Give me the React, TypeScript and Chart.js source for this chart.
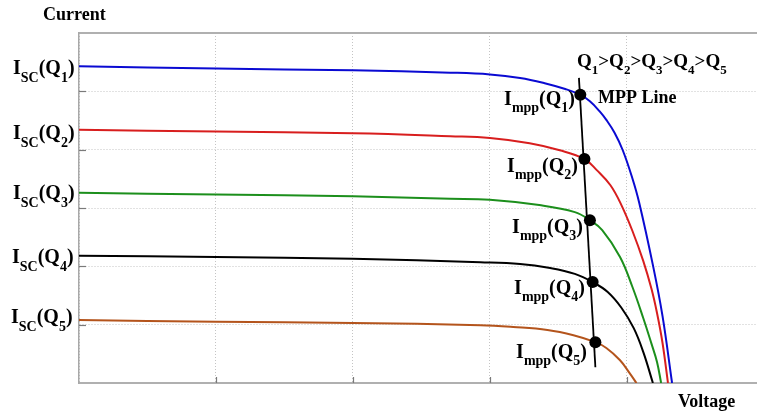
import React, { useEffect, useRef } from "react";
import { Chart, registerables } from "chart.js";

Chart.register(...registerables);

// I-V curves for five irradiance levels Q1 > Q2 > Q3 > Q4 > Q5
const q1Voltage = [0, 1.0, 2.0, 2.71, 3.0, 3.22, 3.4, 3.55, 3.66, 3.73, 3.8, 3.85, 3.91, 3.97, 4.04, 4.09, 4.19, 4.26, 4.33];
const q1Current = [5.43, 5.39, 5.36, 5.32, 5.29, 5.23, 5.14, 5.04, 4.94, 4.83, 4.66, 4.51, 4.29, 3.99, 3.51, 3.09, 2.02, 1.15, 0];

const q2Voltage = [0, 1.0, 2.0, 2.71, 3.0, 3.29, 3.51, 3.69, 3.78, 3.88, 3.96, 4.04, 4.12, 4.18, 4.22, 4.26, 4.3];
const q2Current = [4.34, 4.31, 4.28, 4.23, 4.2, 4.11, 3.99, 3.84, 3.65, 3.39, 3.05, 2.61, 2.09, 1.61, 1.2, 0.69, 0];

const q3Voltage = [0, 1.0, 2.0, 2.71, 3.0, 3.36, 3.62, 3.73, 3.82, 3.95, 4.04, 4.12, 4.18, 4.22, 4.25];
const q3Current = [3.26, 3.23, 3.2, 3.16, 3.14, 3.05, 2.93, 2.79, 2.62, 2.16, 1.65, 1.11, 0.67, 0.36, 0];

const q4Voltage = [0, 1.0, 2.0, 2.93, 3.22, 3.44, 3.62, 3.75, 3.86, 3.96, 4.05, 4.12, 4.19];
const q4Current = [2.18, 2.16, 2.13, 2.07, 2.04, 1.97, 1.87, 1.73, 1.56, 1.29, 0.94, 0.53, 0];

const q5Voltage = [0, 1.0, 2.0, 2.93, 3.17, 3.42, 3.61, 3.77, 3.85, 3.95, 4.02, 4.07];
const q5Current = [1.08, 1.05, 1.03, 0.99, 0.96, 0.91, 0.82, 0.7, 0.6, 0.39, 0.17, 0];

// maximum power points
const mppVoltage = [3.66, 3.69, 3.73, 3.75, 3.77];
const mppCurrent = [4.94, 3.84, 2.79, 1.73, 0.7];

// MPP line end points
const mppLineVoltage = [3.65, 3.77];
const mppLineCurrent = [5.23, 0.27];

const seriesNames = ["Q1", "Q2", "Q3", "Q4", "Q5"];
const seriesColors = ["#0a0ad2", "#d81e1e", "#1c8f1c", "#000000", "#b4541c"];

const xMin = 0;
const xMax = 4.95;
const yMin = 0;
const yMax = 6;

const toPoints = (xs: number[], ys: number[]) => xs.map((x, i) => ({ x, y: ys[i] }));

type Part = [string, boolean];
const SERIF = '"Liberation Serif", "DejaVu Serif", serif';

function drawRich(
  ctx: CanvasRenderingContext2D,
  x: number,
  y: number,
  parts: Part[],
  mainSize: number,
  subSize: number,
  subDrop: number,
  align: "left" | "right"
) {
  const mainFont = `bold ${mainSize}px ${SERIF}`;
  const subFont = `bold ${subSize}px ${SERIF}`;
  let total = 0;
  for (const [t, s] of parts) {
    ctx.font = s ? subFont : mainFont;
    total += ctx.measureText(t).width;
  }
  let cx = align === "right" ? x - total : x;
  for (const [t, s] of parts) {
    ctx.font = s ? subFont : mainFont;
    ctx.fillText(t, cx, s ? y + subDrop : y);
    cx += ctx.measureText(t).width;
  }
}

const overlayPlugin = {
  id: "overlay",
  afterDraw(chart: any) {
    const ctx: CanvasRenderingContext2D = chart.ctx;
    const { left, bottom } = chart.chartArea;
    const xs = chart.scales.x;
    const ys = chart.scales.y;
    ctx.save();
    // inward tick marks
    ctx.strokeStyle = "#7a7a7a";
    ctx.lineWidth = 1.2;
    for (let v = 1; v < yMax; v++) {
      const py = Math.round(ys.getPixelForValue(v)) + 0.5;
      ctx.beginPath();
      ctx.moveTo(left, py);
      ctx.lineTo(left + 7, py);
      ctx.stroke();
    }
    for (let v = 1; v < xMax; v++) {
      const px = Math.round(xs.getPixelForValue(v)) + 0.5;
      ctx.beginPath();
      ctx.moveTo(px, bottom);
      ctx.lineTo(px, bottom - 6);
      ctx.stroke();
    }

    ctx.fillStyle = "#000";
    ctx.textBaseline = "alphabetic";
    ctx.font = `bold 18px ${SERIF}`;
    ctx.fillText("Current", 43, 20);
    ctx.fillText("Voltage", 678, 407);

    const iscBase = [74, 139, 199, 263, 323];
    const iscX = [13, 13, 13, 12, 11];
    seriesNames.forEach((n, i) => {
      drawRich(ctx, iscX[i], iscBase[i], [["I", false], ["SC", true], ["(Q", false], [n.slice(1), true], [")", false]], 20, 14, 8, "left");
    });

    const mppRight = [575, 578, 583, 585, 587];
    const mppBase = [105, 172, 233, 294, 358];
    seriesNames.forEach((n, i) => {
      drawRich(ctx, mppRight[i], mppBase[i], [["I", false], ["mpp", true], ["(Q", false], [n.slice(1), true], [")", false]], 20, 14, 7, "right");
    });

    const orderParts: Part[] = [];
    seriesNames.forEach((n, i) => {
      orderParts.push(["Q", false]);
      orderParts.push([n.slice(1), true]);
      if (i < seriesNames.length - 1) orderParts.push([">", false]);
    });
    drawRich(ctx, 577, 67, orderParts, 19, 13, 7, "left");

    ctx.font = `bold 18px ${SERIF}`;
    ctx.fillText("MPP Line", 598, 103);
    ctx.restore();
  },
};

export default function App() {
  const ref = useRef<HTMLCanvasElement | null>(null);

  useEffect(() => {
    if (!ref.current) return;
    const volt = [q1Voltage, q2Voltage, q3Voltage, q4Voltage, q5Voltage];
    const curr = [q1Current, q2Current, q3Current, q4Current, q5Current];
    const curveSets = seriesNames.map((n, i) => ({
      type: "line" as const,
      label: n,
      data: toPoints(volt[i], curr[i]),
      borderColor: seriesColors[i],
      borderWidth: 2,
      pointRadius: 0,
      fill: false,
      tension: 0.4,
      order: 2,
    }));
    const chart = new Chart(ref.current, {
      type: "scatter",
      data: {
        datasets: [
          {
            type: "scatter",
            label: "MPP",
            data: toPoints(mppVoltage, mppCurrent),
            pointRadius: 6,
            pointBackgroundColor: "#000",
            pointBorderColor: "#000",
            pointBorderWidth: 0,
            showLine: false,
            order: 0,
          },
          {
            type: "line",
            label: "MPP Line",
            data: toPoints(mppLineVoltage, mppLineCurrent),
            borderColor: "#000",
            borderWidth: 1.8,
            pointRadius: 0,
            fill: false,
            order: 1,
          },
          ...curveSets,
        ] as any,
      },
      options: {
        animation: false,
        responsive: false,
        devicePixelRatio: 1,
        layout: { autoPadding: false, padding: { left: 79, top: 33, right: 0, bottom: 33 } },
        plugins: { legend: { display: false }, tooltip: { enabled: false } },
        scales: {
          x: {
            type: "linear",
            min: xMin,
            max: xMax,
            ticks: { display: false, stepSize: 1 },
            afterBuildTicks: (s: any) => {
              s.ticks = s.ticks.filter((t: any) => Number.isInteger(t.value));
            },
            grid: { color: "#c4c4c4", lineWidth: 1, drawTicks: false },
            border: { display: true, color: "#b0b0b0", width: 2, dash: [1, 2] },
          },
          xTop: {
            type: "linear",
            position: "top",
            min: 0,
            max: 1,
            ticks: { display: false },
            grid: { drawOnChartArea: false, drawTicks: false },
            border: { display: true, color: "#b0b0b0", width: 2 },
          },
          y: {
            type: "linear",
            min: yMin,
            max: yMax,
            ticks: { display: false, stepSize: 1 },
            grid: { color: "#c4c4c4", lineWidth: 1, drawTicks: false },
            border: { display: true, color: "#a8a8a8", width: 1.5, dash: [1, 2] },
          },
        },
      } as any,
      plugins: [overlayPlugin],
    });
    return () => chart.destroy();
  }, []);

  return (
    <div style={{ position: "absolute", left: 0, top: 0, width: 757, height: 416, background: "#fff" }}>
      <canvas ref={ref} width={757} height={416} style={{ display: "block" }} />
    </div>
  );
}
